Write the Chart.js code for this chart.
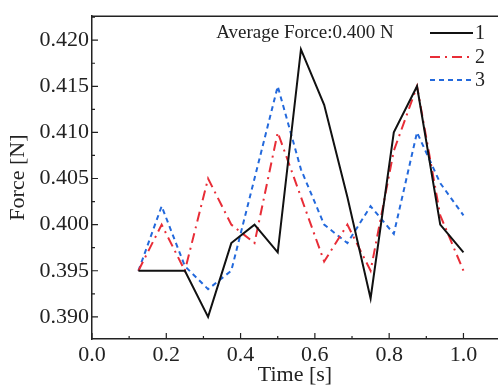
<!DOCTYPE html>
<html>
<head>
<meta charset="utf-8">
<script src="https://cdn.jsdelivr.net/npm/chart.js@4/dist/chart.umd.min.js"></script>
<style>
	html, body { margin: 0; padding: 0; background: #fff; }
	#wrap { width: 498px; height: 386px; }
</style>
</head>
<body>
<div id="wrap"><canvas id="forceChart"></canvas></div>
<script>
// time points [s]
const times = [0.125, 0.1875, 0.25, 0.3125, 0.375, 0.4375, 0.5, 0.5625, 0.625, 0.6875, 0.75, 0.8125, 0.875, 0.9375, 1.0]
// force per run [N]
const force1 = [0.395, 0.395, 0.395, 0.390, 0.398, 0.400, 0.397, 0.419, 0.413, 0.403, 0.392, 0.410, 0.415, 0.400, 0.397]
const force2 = [0.395, 0.400, 0.395, 0.405, 0.400, 0.398, 0.410, 0.403, 0.396, 0.400, 0.395, 0.408, 0.415, 0.401, 0.395]
const force3 = [0.395, 0.402, 0.3955, 0.393, 0.395, 0.405, 0.415, 0.406, 0.400, 0.398, 0.402, 0.399, 0.410, 0.4045, 0.401]
const runLabels = ['1', '2', '3']
const xTicks = [0.0, 0.2, 0.4, 0.6, 0.8, 1.0]
const yTicks = [0.390, 0.395, 0.400, 0.405, 0.410, 0.415, 0.420]
const note = 'Average Force:0.400 N'

const axisColor = '#222'
const styles = [
	{ color: '#111111', dash: [] },
	{ color: 'rgb(232, 45, 55)', dash: [10, 5, 2, 5] },
	{ color: 'rgb(35, 105, 220)', dash: [5, 4] }
]

function points(ys) {
	return times.map((t, i) => ({ x: t, y: ys[i] }))
}

const series = [force1, force2, force3]
const datasets = series.map((ys, i) => ({
	label: runLabels[i],
	data: points(ys),
	borderColor: styles[i].color,
	borderDash: styles[i].dash,
	borderWidth: 2,
	pointRadius: 0,
	tension: 0,
	fill: false
}))

// inward ticks, top frame line, note and legend
const decorations = {
	id: 'decorations',
	afterDraw(chart) {
		const c = chart.ctx
		const a = chart.chartArea
		const xs = chart.scales.x
		const ys = chart.scales.y
		c.save()
		c.strokeStyle = axisColor
		c.lineWidth = 1.5
		c.beginPath()
		c.moveTo(a.left, a.top)
		c.lineTo(a.right, a.top)
		c.stroke()

		c.lineWidth = 1.2
		c.beginPath()
		xTicks.forEach(v => {
			const px = xs.getPixelForValue(v)
			c.moveTo(px, a.bottom)
			c.lineTo(px, a.bottom - 6)
			const mp = xs.getPixelForValue(v + 0.1)
			if (mp < a.right) {
				c.moveTo(mp, a.bottom)
				c.lineTo(mp, a.bottom - 3)
			}
		})
		yTicks.forEach(v => {
			const py = ys.getPixelForValue(v)
			c.moveTo(a.left, py)
			c.lineTo(a.left + 6, py)
			const mp = ys.getPixelForValue(v + 0.0025)
			if (mp > a.top) {
				c.moveTo(a.left, mp)
				c.lineTo(a.left + 3, mp)
			}
		})
		c.stroke()

		c.fillStyle = axisColor
		c.font = '19px "Liberation Serif"'
		c.textAlign = 'center'
		c.textBaseline = 'middle'
		c.fillText(note, 305, 33)

		c.textAlign = 'left'
		c.font = '20px "Liberation Serif"'
		const rows = [33, 57, 80]
		chart.data.datasets.forEach((ds, i) => {
			c.strokeStyle = ds.borderColor
			c.lineWidth = 2
			c.setLineDash(ds.borderDash)
			c.beginPath()
			c.moveTo(430, rows[i])
			c.lineTo(473, rows[i])
			c.stroke()
			c.setLineDash([])
			c.fillStyle = axisColor
			c.fillText(ds.label, 475, rows[i] + 1)
		})
		c.restore()
	}
}

Chart.defaults.font.family = '"Liberation Serif", "Times New Roman", serif'
Chart.defaults.color = axisColor

const ctx = document.getElementById('forceChart')
new Chart(ctx, {
	type: 'line',
	data: { datasets: datasets },
	options: {
		responsive: true,
		maintainAspectRatio: false,
		animation: false,
		layout: { padding: { top: 12, left: 0, right: 0, bottom: 0 } },
		plugins: {
			legend: { display: false },
			tooltip: { enabled: false }
		},
		scales: {
			x: {
				type: 'linear',
				min: 0,
				max: 1.093,
				afterBuildTicks: s => { s.ticks = xTicks.map(v => ({ value: v })) },
				afterFit: s => { s.height = 47 },
				grid: { display: false, drawTicks: false },
				border: { display: true, color: axisColor, width: 1.5 },
				ticks: {
					font: { size: 22 },
					padding: 3,
					maxRotation: 0,
					callback: v => v.toFixed(1)
				},
				title: {
					display: true,
					text: 'Time [s]',
					font: { size: 22, lineHeight: 1 },
					padding: { top: 0, bottom: 0 }
				}
			},
			y: {
				min: 0.3876,
				max: 0.4226,
				afterBuildTicks: s => { s.ticks = yTicks.map(v => ({ value: v })) },
				afterFit: s => { s.width = 92 },
				grid: { display: false, drawTicks: false },
				border: { display: true, color: axisColor, width: 1.5 },
				ticks: {
					font: { size: 22 },
					padding: 3,
					callback: v => v.toFixed(3)
				},
				title: {
					display: true,
					text: 'Force [N]',
					font: { size: 22, lineHeight: 1 },
					padding: { top: 7, bottom: 0 }
				}
			}
		}
	},
	plugins: [decorations]
})
</script>
</body>
</html>
